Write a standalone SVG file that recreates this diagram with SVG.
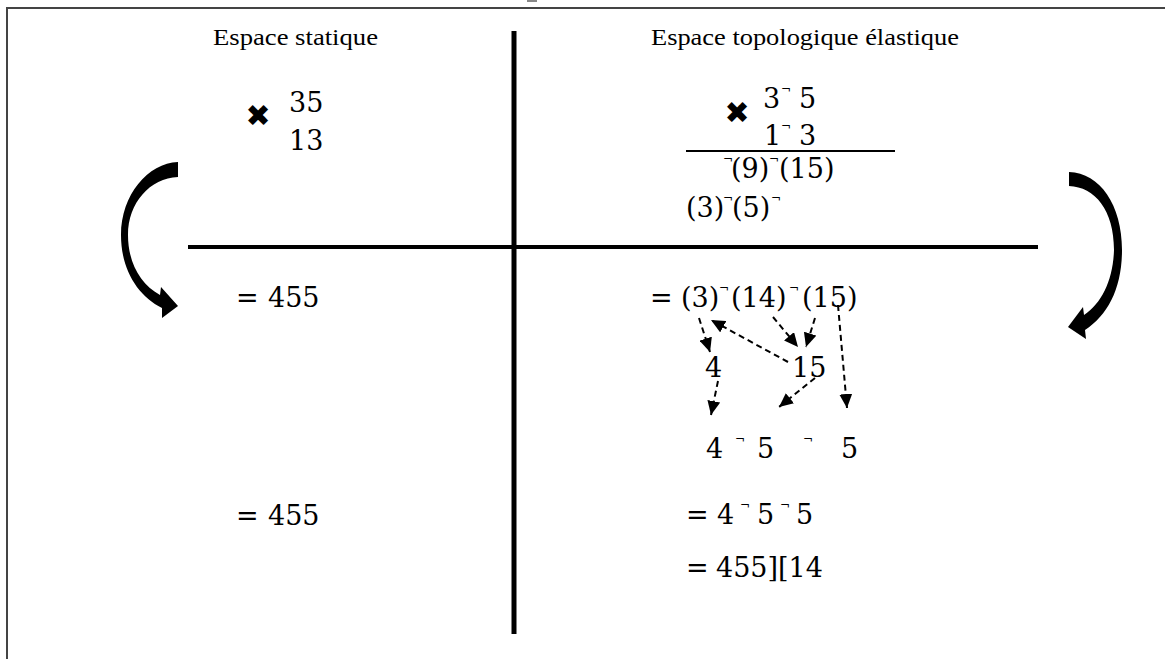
<svg xmlns="http://www.w3.org/2000/svg" width="1165" height="659" viewBox="0 0 1165 659">
<style>
.title{font-family:"Liberation Serif","Times New Roman",serif;font-size:24px;fill:#000}
.m{font-family:"DejaVu Serif","Liberation Serif",serif;font-size:27px;fill:#000}
.n{font-family:"DejaVu Serif","Liberation Serif",serif;font-size:12px;fill:#000}
.x{font-family:"DejaVu Sans",sans-serif;font-size:30px;fill:#000}
.dash{stroke:#000;stroke-width:2;stroke-dasharray:6,4;fill:none;marker-end:url(#ah)}
</style>
<defs>
<marker id="ah" markerUnits="userSpaceOnUse" markerWidth="15" markerHeight="13" refX="14" refY="6.5" orient="auto">
<path d="M0,0 L14,6.5 L0,13 Z" fill="#000"/>
</marker>
</defs>
<rect width="1165" height="659" fill="#fff"/>
<g id="frame">
<line x1="6" y1="8" x2="1165" y2="8" stroke="#444" stroke-width="2"/>
<line x1="7" y1="8" x2="7" y2="659" stroke="#444" stroke-width="2"/>
<rect x="527" y="0" width="10" height="2" fill="#888"/>
</g>
<g id="axes">
<line x1="514" y1="31" x2="514" y2="634" stroke="#000" stroke-width="5"/>
<line x1="188" y1="247" x2="1038" y2="247" stroke="#000" stroke-width="4"/>
</g>
<g id="titles">
<text class="title" x="213" y="45" textLength="165" lengthAdjust="spacingAndGlyphs">Espace statique</text>
<text class="title" x="651" y="45" textLength="308" lengthAdjust="spacingAndGlyphs">Espace topologique élastique</text>
</g>
<g id="static-top">
<text class="x" x="258" y="126" text-anchor="middle">✖</text>
<text class="m" x="289" y="112">35</text>
<text class="m" x="289" y="150">13</text>
</g>
<g id="elastic-top">
<text class="x" x="737" y="123" text-anchor="middle">✖</text>
<text class="m" x="763" y="108">3</text>
<text class="n" x="781" y="94">¬</text>
<text class="m" x="799" y="108">5</text>
<text class="m" x="764" y="145">1</text>
<text class="n" x="781" y="131">¬</text>
<text class="m" x="799" y="145">3</text>
<line x1="686" y1="151" x2="895" y2="151" stroke="#000" stroke-width="2"/>
<text class="n" x="723" y="164">¬</text>
<text class="m" x="731" y="178">(9)</text>
<text class="n" x="769" y="164">¬</text>
<text class="m" x="779" y="178">(15)</text>
<text class="m" x="686" y="217">(3)</text>
<text class="n" x="723" y="203">¬</text>
<text class="m" x="732" y="217">(5)</text>
<text class="n" x="771" y="203">¬</text>
</g>
<g id="static-bottom">
<text class="m" x="236" y="307">=</text>
<text class="m" x="268" y="307">455</text>
<text class="m" x="236" y="525">=</text>
<text class="m" x="268" y="525">455</text>
</g>
<g id="elastic-bottom">
<text class="m" x="650" y="307">=</text>
<text class="m" x="681" y="307">(3)</text>
<text class="n" x="719" y="293">¬</text>
<text class="m" x="731" y="307">(14)</text>
<text class="n" x="789" y="293">¬</text>
<text class="m" x="802" y="307">(15)</text>
<text class="m" x="705" y="377">4</text>
<text class="m" x="792" y="377">15</text>
<text class="m" x="706" y="458">4</text>
<text class="n" x="735" y="444">¬</text>
<text class="m" x="757" y="458">5</text>
<text class="n" x="803" y="444">¬</text>
<text class="m" x="841" y="458">5</text>
<text class="m" x="686" y="524">=</text>
<text class="m" x="717" y="524">4</text>
<text class="n" x="740" y="510">¬</text>
<text class="m" x="757" y="524">5</text>
<text class="n" x="780" y="510">¬</text>
<text class="m" x="796" y="524">5</text>
<text class="m" x="686" y="577">=</text>
<text class="m" x="716" y="577">455][14</text>
</g>
<g id="connectors">
<line class="dash" x1="699" y1="318" x2="710" y2="352"/>
<line class="dash" x1="788" y1="362" x2="711" y2="320"/>
<line class="dash" x1="773" y1="317" x2="798" y2="347"/>
<line class="dash" x1="815" y1="318" x2="806" y2="347"/>
<line class="dash" x1="838" y1="305" x2="847" y2="408"/>
<line class="dash" x1="718" y1="381" x2="711" y2="415"/>
<line class="dash" x1="815" y1="378" x2="779" y2="407"/>
<path d="M178,162 C148,163 121,195 121,235 C121,270 138,296 162,308 L162,318 L178,306 L161,287 L160,295 C140,284 128,262 128,235 C128,203 150,178 178,177 Z" fill="#000"/>
<path d="M1069,172 C1100,173 1122,205 1122,250 C1122,288 1108,315 1085,330 L1086,339 L1068,327 L1083,307 L1084,315 C1102,303 1113,280 1114,250 C1114,210 1095,187 1069,186 Z" fill="#000"/>
</g>
</svg>
